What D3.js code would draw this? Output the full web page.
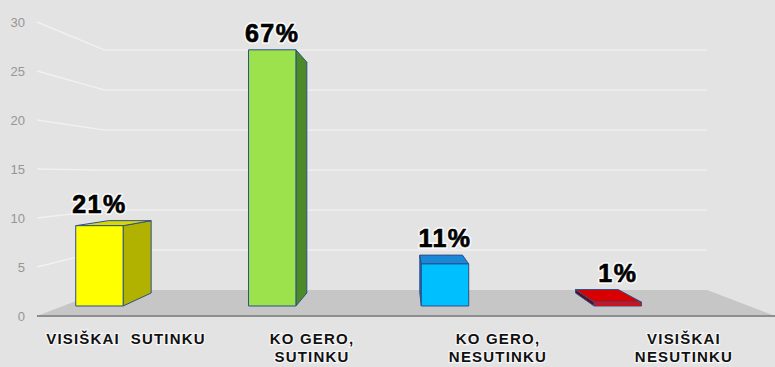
<!DOCTYPE html>
<html>
<head>
<meta charset="utf-8">
<script src="https://cdn.jsdelivr.net/npm/d3@7"></script>
<style>
  html, body { margin: 0; padding: 0; background: #e3e3e3; }
  svg { display: block; }
</style>
</head>
<body>
<svg id="chart" width="775" height="367"></svg>
<script>
// Survey answers and their shares
const categories = ["VISIŠKAI SUTINKU", "KO GERO, SUTINKU", "KO GERO, NESUTINKU", "VISIŠKAI NESUTINKU"];
const labelLines = [["VISIŠKAI  SUTINKU"], ["KO GERO,", "SUTINKU"], ["KO GERO,", "NESUTINKU"], ["VISIŠKAI", "NESUTINKU"]];
const percents = [21, 67, 11, 1];
const respondents = 42;
const yTicks = [0, 5, 10, 15, 20, 25, 30];

const palette = [
  { front: "#ffff00", side: "#b1b100", top: "#d8d800" },
  { front: "#9be24c", side: "#4c8a28", top: "#79b83a" },
  { front: "#00bfff", side: "#0b6fc0", top: "#1a88d6" },
  { front: "#ff0000", side: "#5a0c1c", top: "#d80000" }
];

const svg = d3.select("#chart");

// One-point perspective: front plane coordinates shrink toward the vanishing point
const VP = [406, 175];
const depth = d3.scaleLinear().domain([0, 1]).range([1, 0.816]);
const barDepth = [0.386, 0.886];

const y = d3.scaleLinear().domain([0, 30]).range([316, 22]);
const x = d3.scalePoint().domain(categories).range([76, 634]);
const barHalf = 25.5;
const floorX = [37, 775];

function P(xf, v, z) {
  const s = depth(z);
  return [VP[0] + (xf - VP[0]) * s, VP[1] + (y(v) - VP[1]) * s];
}
const line = d3.line();

// Floor
const floor = [P(floorX[0], 0, 0), P(floorX[1], 0, 0), P(floorX[1], 0, 1), P(floorX[0], 0, 1)];
svg.append("path").attr("d", line(floor) + "Z").attr("fill", "#c6c6c6");

// Gridlines on the left wall and back wall
const grid = svg.append("g");
yTicks.filter(t => t > 0).forEach(t => {
  grid.append("path")
    .attr("d", line([P(floorX[0], t, 0), P(floorX[0], t, 1), P(floorX[1], t, 1)]))
    .attr("fill", "none").attr("stroke", "#f1f1f1").attr("stroke-width", 1.4);
});

// Front edge of the floor
svg.append("path").attr("d", line([P(floorX[0], 0, 0), P(floorX[1], 0, 0)]))
  .attr("stroke", "#8e8e8e").attr("stroke-width", 2);

// Y axis labels
svg.append("g").selectAll("text").data(yTicks).join("text")
  .attr("x", 25).attr("y", d => y(d) + 5)
  .attr("text-anchor", "end")
  .attr("font-family", "Liberation Sans, Arial, sans-serif")
  .attr("font-size", 13).attr("fill", "#969696")
  .text(d => d);

// Bars
const bars = svg.append("g");
const labels = [];
categories.forEach((c, i) => {
  const v = percents[i] * respondents / 100;
  const x0 = x(c) - barHalf, x1 = x(c) + barHalf;
  const [z0, z1] = barDepth;
  const col = palette[i];
  const g = bars.append("g").attr("stroke", "#2d4f8a").attr("stroke-width", 1).attr("stroke-linejoin", "round");
  // side face
  if (x1 < VP[0]) {
    g.append("path").attr("d", line([P(x1, 0, z0), P(x1, 0, z1), P(x1, v, z1), P(x1, v, z0)]) + "Z").attr("fill", col.side);
  } else if (x0 > VP[0]) {
    g.append("path").attr("d", line([P(x0, 0, z0), P(x0, 0, z1), P(x0, v, z1), P(x0, v, z0)]) + "Z").attr("fill", col.side);
  }
  // top face, visible when below eye level
  if (P(x0, v, z0)[1] > VP[1]) {
    g.append("path").attr("d", line([P(x0, v, z0), P(x1, v, z0), P(x1, v, z1), P(x0, v, z1)]) + "Z").attr("fill", col.top);
  }
  // front face
  g.append("path").attr("d", line([P(x0, 0, z0), P(x1, 0, z0), P(x1, v, z0), P(x0, v, z0)]) + "Z").attr("fill", col.front);

  const cx = P(x(c), v, z0)[0];
  const topY = Math.min(P(x(c), v, z0)[1], P(x(c), v, z1)[1]);
  labels.push({ x: cx, y: topY - 8, text: percents[i] + "%" });
});

// Percentage labels: white halo underneath, heavy black text on top
const pl = svg.append("g")
  .attr("font-family", "Liberation Sans, Arial, sans-serif")
  .attr("font-weight", "bold").attr("font-size", 25)
  .attr("letter-spacing", 1.5)
  .attr("text-anchor", "middle");
pl.selectAll("text.halo").data(labels).join("text").attr("class", "halo")
  .attr("x", d => d.x).attr("y", d => d.y)
  .attr("fill", "none").attr("stroke", "#ffffff").attr("stroke-width", 4).attr("stroke-opacity", 0.75)
  .attr("stroke-linejoin", "round")
  .text(d => d.text);
pl.selectAll("text.val").data(labels).join("text").attr("class", "val")
  .attr("x", d => d.x).attr("y", d => d.y)
  .attr("fill", "#000").attr("stroke", "#000").attr("stroke-width", 0.7)
  .text(d => d.text);

// Category labels
const cat = svg.append("g");
categories.forEach((c, i) => {
  const t = cat.append("text")
    .attr("text-anchor", "middle")
    .attr("font-family", "Liberation Sans, Arial, sans-serif")
    .attr("font-weight", "bold").attr("font-size", 15)
    .attr("letter-spacing", 1.2)
    .attr("fill", "#111")
    .attr("stroke", "#ffffff").attr("stroke-width", 2.5).attr("stroke-opacity", 0.7)
    .attr("paint-order", "stroke")
    .attr("xml:space", "preserve")
    .style("white-space", "pre");
  labelLines[i].forEach((ln, j) => {
    t.append("tspan").attr("x", x(c) + 50).attr("y", 344 + j * 18).text(ln);
  });
});
</script>
</body>
</html>
